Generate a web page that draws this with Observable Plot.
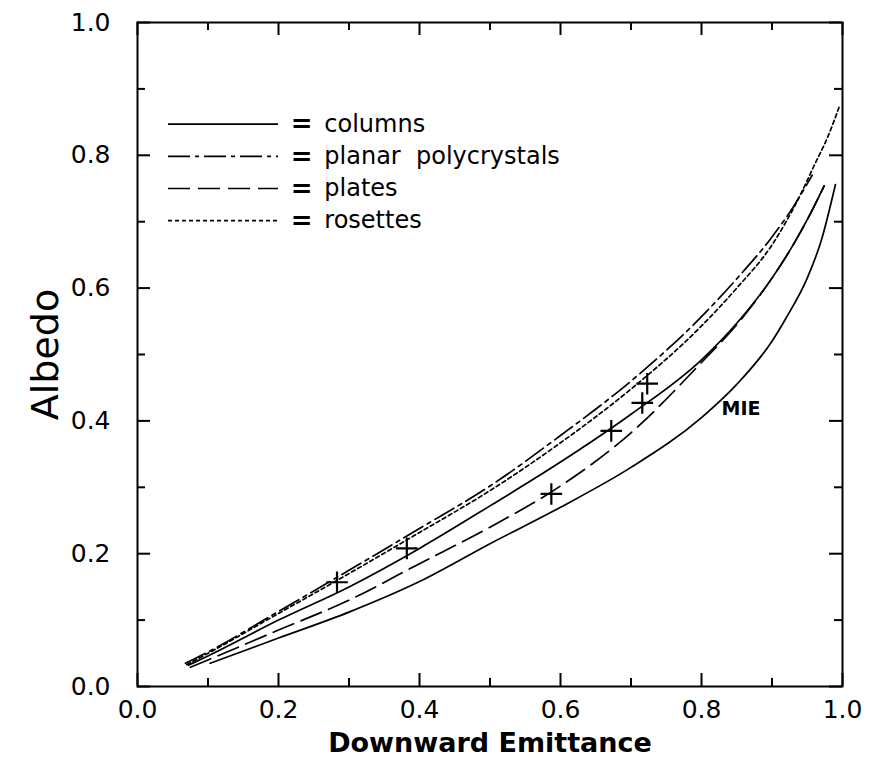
<!DOCTYPE html>
<html>
<head>
<meta charset="utf-8">
<script src="https://cdn.jsdelivr.net/npm/d3@7"></script>
<script src="https://cdn.jsdelivr.net/npm/@observablehq/plot@0.6"></script>
<style>
  body { margin: 0; background: #fff; }
  #chart svg { display: block; }
</style>
</head>
<body>
<div id="chart"></div>
<script>
// ---- Data ----
const columnsX = [0.072, 0.1, 0.2, 0.3, 0.4, 0.5, 0.6, 0.7, 0.8, 0.85, 0.9, 0.93, 0.95, 0.974];
const columnsY = [0.032, 0.046, 0.100, 0.150, 0.208, 0.272, 0.338, 0.410, 0.492, 0.547, 0.615, 0.665, 0.703, 0.754];

const planarX = [0.068, 0.1, 0.2, 0.3, 0.4, 0.5, 0.6, 0.7, 0.8, 0.85, 0.9, 0.93, 0.957];
const planarY = [0.035, 0.052, 0.113, 0.175, 0.238, 0.302, 0.378, 0.460, 0.557, 0.614, 0.677, 0.722, 0.770];

const platesX = [0.075, 0.1, 0.2, 0.3, 0.4, 0.5, 0.6, 0.7, 0.8, 0.85, 0.9, 0.93, 0.95, 0.974];
const platesY = [0.029, 0.040, 0.085, 0.130, 0.185, 0.240, 0.302, 0.382, 0.488, 0.545, 0.615, 0.665, 0.703, 0.754];

const rosettesX = [0.07, 0.1, 0.2, 0.3, 0.4, 0.5, 0.6, 0.7, 0.8, 0.85, 0.9, 0.92, 0.94, 0.96, 0.98, 0.995];
const rosettesY = [0.033, 0.050, 0.110, 0.170, 0.232, 0.295, 0.367, 0.448, 0.543, 0.600, 0.665, 0.700, 0.740, 0.785, 0.830, 0.872];

const mieX = [0.103, 0.2, 0.3, 0.4, 0.5, 0.6, 0.7, 0.8, 0.85, 0.9, 0.92, 0.95, 0.97, 0.99];
const mieY = [0.035, 0.073, 0.112, 0.158, 0.215, 0.270, 0.330, 0.405, 0.455, 0.520, 0.555, 0.615, 0.672, 0.756];

const obsX = [0.283, 0.382, 0.587, 0.672, 0.716, 0.723];
const obsY = [0.157, 0.208, 0.290, 0.385, 0.427, 0.456];

const majorTicks = [0, 0.2, 0.4, 0.6, 0.8, 1.0];
const minorTicks = [0.1, 0.3, 0.5, 0.7, 0.9];
const tickLabels = ["0.0", "0.2", "0.4", "0.6", "0.8", "1.0"];

const legendNames = ["columns", "planar  polycrystals", "plates", "rosettes"];
const mieLabel = "MIE";
const xTitle = "Downward Emittance";
const yTitle = "Albedo";

// ---- Styles ----
const dashes = {
  columns: null,
  planar: "22,5,4,5",
  plates: "22,8",
  rosettes: "4,3"
};
const legendDashes = [null, dashes.planar, dashes.plates, dashes.rosettes];

const W = 870, H = 774, mL = 137, mR = 28, mT = 22, mB = 88;
const innerW = W - mL - mR, innerH = H - mT - mB;
const font = "DejaVu Sans";

const zip = (xs, ys) => xs.map((x, i) => ({x, y: ys[i]}));
const lineOpts = (dash) => ({x: "x", y: "y", stroke: "black", strokeWidth: 1.7, curve: "monotone-x",
  ...(dash ? {strokeDasharray: dash} : {})});

// legend marks
const legendMarks = [];
legendNames.forEach((name, i) => {
  const ly = 0.847 - 0.0485 * i;
  const dash = legendDashes[i];
  legendMarks.push(Plot.ruleY([ly], {x1: 0.044, x2: 0.2, stroke: "black", strokeWidth: 1.7,
    ...(dash ? {strokeDasharray: dash} : {})}));
  legendMarks.push(Plot.text([name], {x: 0.233, y: ly, text: d => "=", fontSize: 26, fontWeight: "bold", textAnchor: "middle"}));
  legendMarks.push(Plot.text([name], {x: 0.265, y: ly, text: d => d, fontSize: 24, textAnchor: "start"}));
});

const chart = Plot.plot({
  width: W, height: H,
  marginLeft: mL, marginRight: mR, marginTop: mT, marginBottom: mB,
  x: {domain: [0, 1], axis: null},
  y: {domain: [0, 1], axis: null},
  style: {fontFamily: font, background: "white", color: "black", overflow: "visible"},
  marks: [
    Plot.frame({stroke: "black", strokeWidth: 2}),
    // inward ticks: bottom, top, left, right
    Plot.tickX(majorTicks, {x: d => d, insetTop: innerH - 13, strokeWidth: 2}),
    Plot.tickX(minorTicks, {x: d => d, insetTop: innerH - 8, strokeWidth: 2}),
    Plot.tickX(majorTicks, {x: d => d, insetBottom: innerH - 13, strokeWidth: 2}),
    Plot.tickX(minorTicks, {x: d => d, insetBottom: innerH - 8, strokeWidth: 2}),
    Plot.tickY(majorTicks, {y: d => d, insetRight: innerW - 13, strokeWidth: 2}),
    Plot.tickY(minorTicks, {y: d => d, insetRight: innerW - 8, strokeWidth: 2}),
    Plot.tickY(majorTicks, {y: d => d, insetLeft: innerW - 13, strokeWidth: 2}),
    Plot.tickY(minorTicks, {y: d => d, insetLeft: innerW - 8, strokeWidth: 2}),
    // tick labels
    Plot.text(majorTicks, {x: d => d, frameAnchor: "bottom", dy: 31, text: (d, i) => tickLabels[i], fontSize: 25}),
    Plot.text(majorTicks, {y: d => d, frameAnchor: "left", dx: -27, textAnchor: "end", text: (d, i) => tickLabels[i], fontSize: 25}),
    // axis titles
    Plot.text([xTitle], {frameAnchor: "bottom", dy: 65, text: d => d, fontSize: 27, fontWeight: "bold"}),
    Plot.text([yTitle], {frameAnchor: "left", dx: -92, rotate: -90, textAnchor: "middle", text: d => d, fontSize: 38}),
    // curves
    Plot.line(zip(mieX, mieY), lineOpts(null)),
    Plot.line(zip(columnsX, columnsY), lineOpts(dashes.columns)),
    Plot.line(zip(platesX, platesY), lineOpts(dashes.plates)),
    Plot.line(zip(rosettesX, rosettesY), lineOpts(dashes.rosettes)),
    Plot.line(zip(planarX, planarY), lineOpts(dashes.planar)),
    // observations
    Plot.dot(zip(obsX, obsY), {x: "x", y: "y", symbol: "plus", r: 7, stroke: "black", strokeWidth: 2.2}),
    // MIE label
    Plot.text([mieLabel], {x: 0.856, y: 0.418, text: d => d, fontSize: 19, fontWeight: "bold"}),
    ...legendMarks
  ]
});
document.getElementById("chart").appendChild(chart);
</script>
</body>
</html>
